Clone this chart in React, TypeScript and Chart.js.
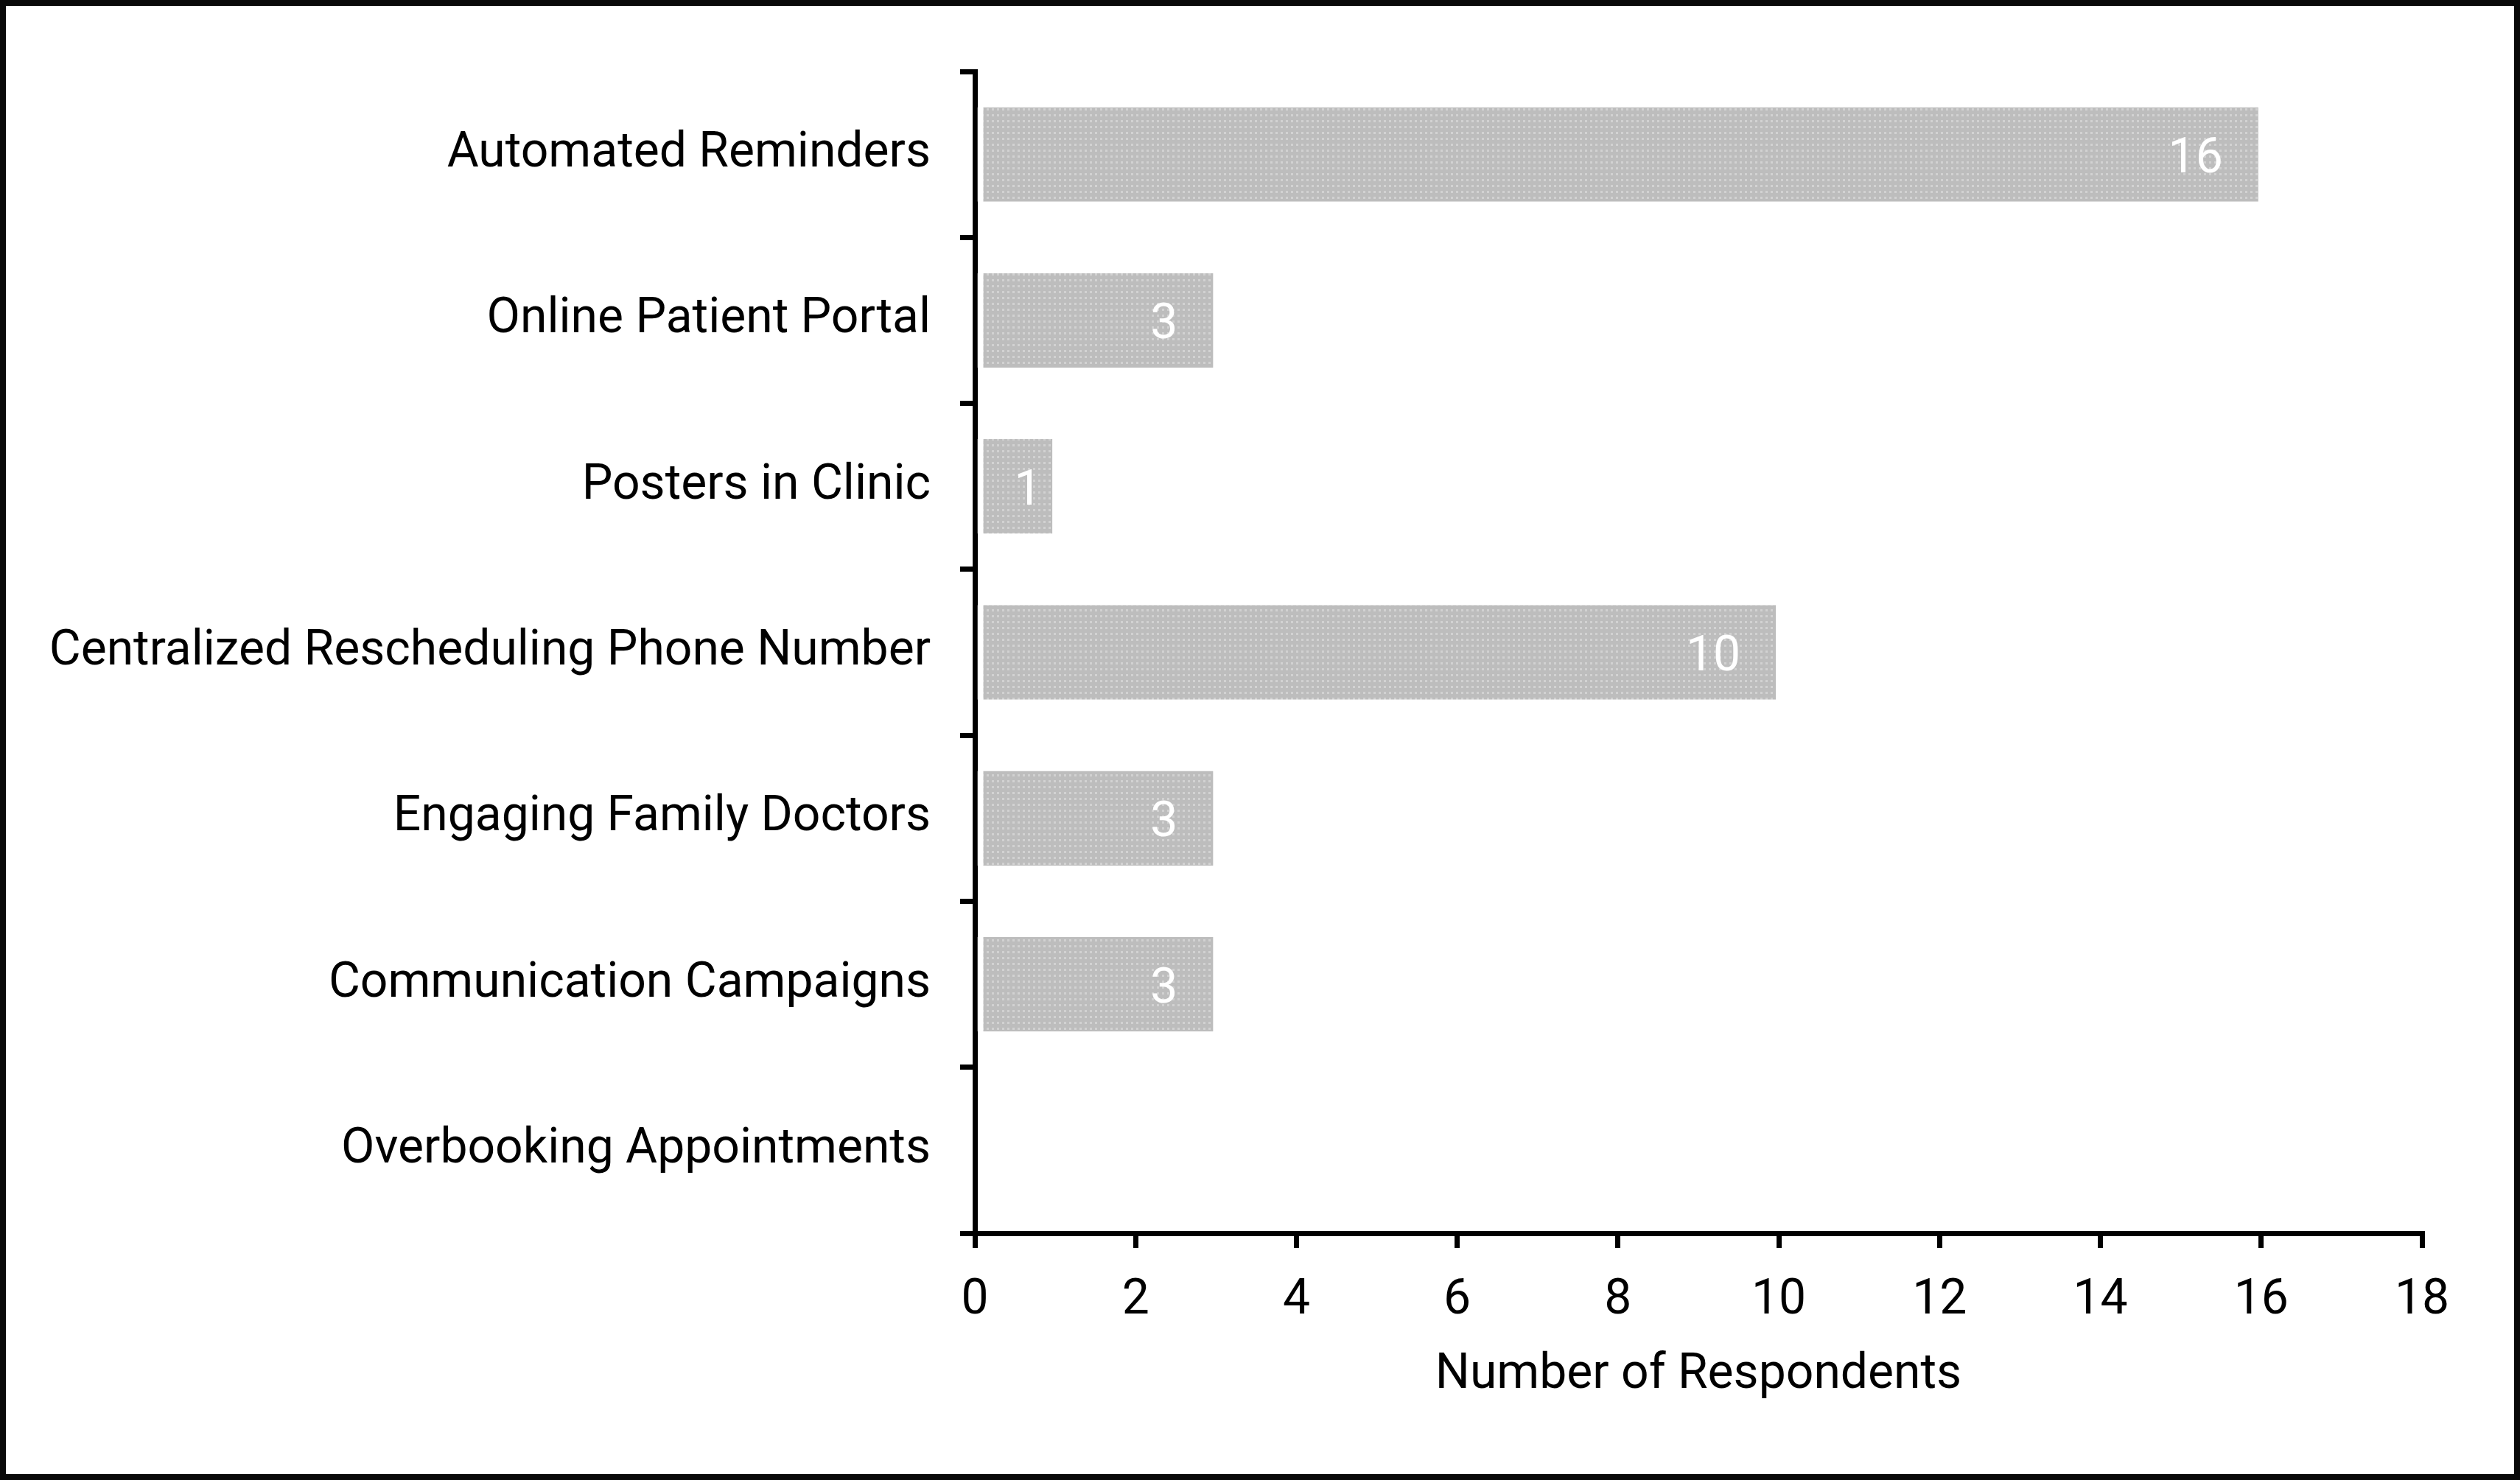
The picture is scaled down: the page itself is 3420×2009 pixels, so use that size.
import React, { useEffect, useRef } from "react";
import { Chart, registerables } from "chart.js";

Chart.register(...registerables);

const categories = [
  "Automated Reminders",
  "Online Patient Portal",
  "Posters in Clinic",
  "Centralized Rescheduling Phone Number",
  "Engaging Family Doctors",
  "Communication Campaigns",
  "Overbooking Appointments",
];
const respondents = [16, 3, 1, 10, 3, 3, 0];
const xTitle = "Number of Respondents";
const xMin = 0;
const xMax = 18;
const xStep = 2;

const W = 3420;
const H = 2009;
const FONT = "Roboto";

function makePattern(): CanvasPattern | string {
  const c = document.createElement("canvas");
  c.width = 7;
  c.height = 8;
  const g = c.getContext("2d");
  if (!g) return "#c3c3c3";
  g.fillStyle = "#bdbdbd";
  g.fillRect(0, 0, 7, 8);
  g.fillStyle = "#d2d2d2";
  g.fillRect(2, 3, 3, 3);
  const p = g.createPattern(c, "repeat");
  return p || "#c3c3c3";
}

const valueLabels = {
  id: "valueLabels",
  afterDatasetsDraw(chart: any) {
    const ctx = chart.ctx;
    const meta = chart.getDatasetMeta(0);
    const data = chart.data.datasets[0].data as number[];
    ctx.save();
    ctx.font = `66px ${FONT}`;
    ctx.fillStyle = "#ffffff";
    ctx.textAlign = "left";
    ctx.textBaseline = "middle";
    meta.data.forEach((bar: any, i: number) => {
      const v = data[i];
      if (!v) return;
      const { x, y, base } = bar.getProps(["x", "y", "base"], true);
      const text = String(v);
      const w = ctx.measureText(text).width;
      const left = Math.max(base + 50, x - 52 - w);
      ctx.fillText(text, left, y + 8);
    });
    ctx.restore();
  },
};

export default function App() {
  const ref = useRef<HTMLCanvasElement | null>(null);

  useEffect(() => {
    let chart: Chart | null = null;
    let cancelled = false;
    const build = () => {
      if (cancelled || !ref.current) return;
      const pattern = makePattern();
      chart = new Chart(ref.current, {
        type: "bar",
        data: {
          labels: categories,
          datasets: [
            {
              data: respondents,
              backgroundColor: pattern as any,
              borderColor: "#ffffff",
              borderWidth: { left: 8, right: 4, top: 0, bottom: 0 } as any,
              borderSkipped: false,
              barPercentage: 0.57,
              categoryPercentage: 1,
            },
          ],
        },
        options: {
          indexAxis: "y",
          animation: false,
          responsive: false,
          devicePixelRatio: 1,
          events: [],
          layout: { padding: { top: 97, right: 133, left: 0, bottom: 0 } },
          plugins: {
            legend: { display: false },
            tooltip: { enabled: false },
            title: { display: false },
          },
          scales: {
            y: {
              type: "category",
              z: 1,
              grid: {
                drawOnChartArea: false,
                drawTicks: true,
                tickLength: 20,
                lineWidth: 7,
                color: "#000000",
                offset: true,
              },
              border: { display: true, width: 7, color: "#000000" },
              ticks: {
                color: "#000000",
                font: { family: FONT, size: 66 },
                padding: 40,
                autoSkip: false,
              },
              afterFit(scale: any) {
                scale.width = 1323;
              },
            },
            x: {
              type: "linear",
              z: 1,
              min: xMin,
              max: xMax,
              grid: {
                drawOnChartArea: false,
                drawTicks: true,
                tickLength: 20,
                lineWidth: 7,
                color: "#000000",
              },
              border: { display: true, width: 7, color: "#000000" },
              ticks: {
                stepSize: xStep,
                color: "#000000",
                font: { family: FONT, size: 66 },
                padding: 33,
                maxRotation: 0,
              },
              title: {
                display: true,
                text: xTitle,
                color: "#000000",
                font: { family: FONT, size: 66 },
                padding: { top: 0, bottom: 102 },
              },
              afterFit(scale: any) {
                scale.height = 335;
              },
            },
          },
        },
        plugins: [valueLabels],
      });
    };
    const fonts: any = (document as any).fonts;
    if (fonts && fonts.load) {
      fonts
        .load(`66px ${FONT}`)
        .then(build, build);
    } else {
      build();
    }
    return () => {
      cancelled = true;
      if (chart) chart.destroy();
    };
  }, []);

  return (
    <div style={{ position: "fixed", left: 0, top: 0, width: W, height: H, background: "#ffffff" }}>
      <canvas
        ref={ref}
        width={W}
        height={H}
        style={{ position: "absolute", left: 0, top: 0, width: W, height: H }}
      />
      <div
        style={{
          position: "absolute",
          left: 0,
          top: 0,
          width: W,
          height: H,
          boxSizing: "border-box",
          border: "8px solid #0a0a0a",
          pointerEvents: "none",
        }}
      />
    </div>
  );
}
